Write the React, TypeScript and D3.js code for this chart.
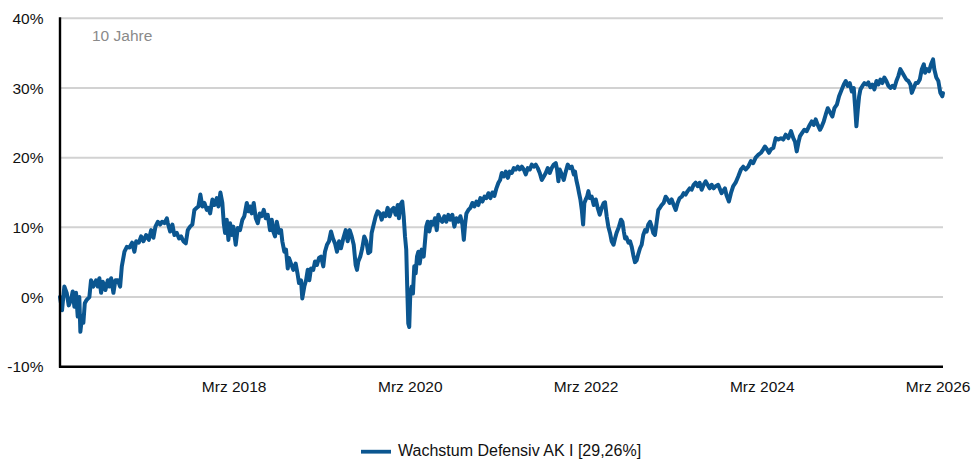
import React, { useEffect } from "react";
import * as d3 from "d3";

// decimal years of each observation
const years: number[] = [
  2016.183, 2016.206, 2016.232, 2016.259, 2016.282, 2016.308, 2016.327, 2016.346, 2016.365, 2016.384,
  2016.402, 2016.414, 2016.433, 2016.448, 2016.464, 2016.486, 2016.516, 2016.535, 2016.561, 2016.592,
  2016.611, 2016.63, 2016.649, 2016.668, 2016.698, 2016.725, 2016.743, 2016.763, 2016.789, 2016.811,
  2016.839, 2016.865, 2016.884, 2016.914, 2016.941, 2016.971, 2017.001, 2017.027, 2017.047, 2017.077,
  2017.103, 2017.13, 2017.16, 2017.191, 2017.217, 2017.243, 2017.266, 2017.293, 2017.319, 2017.342,
  2017.368, 2017.396, 2017.407, 2017.433, 2017.459, 2017.482, 2017.509, 2017.535, 2017.558, 2017.584,
  2017.611, 2017.634, 2017.66, 2017.686, 2017.709, 2017.736, 2017.755, 2017.777, 2017.8, 2017.823,
  2017.85, 2017.868, 2017.888, 2017.914, 2017.936, 2017.964, 2017.982, 2018.005, 2018.027, 2018.043,
  2018.058, 2018.077, 2018.096, 2018.115, 2018.134, 2018.152, 2018.179, 2018.202, 2018.228, 2018.255,
  2018.277, 2018.305, 2018.323, 2018.342, 2018.361, 2018.384, 2018.407, 2018.43, 2018.452, 2018.475,
  2018.498, 2018.521, 2018.543, 2018.569, 2018.589, 2018.607, 2018.626, 2018.646, 2018.672, 2018.695,
  2018.709, 2018.732, 2018.751, 2018.771, 2018.785, 2018.808, 2018.834, 2018.861, 2018.884, 2018.899,
  2018.922, 2018.936, 2018.959, 2018.979, 2018.998, 2019.016, 2019.035, 2019.061, 2019.081, 2019.103,
  2019.126, 2019.149, 2019.175, 2019.194, 2019.217, 2019.24, 2019.263, 2019.285, 2019.308, 2019.331,
  2019.354, 2019.376, 2019.402, 2019.43, 2019.452, 2019.475, 2019.498, 2019.521, 2019.543, 2019.558,
  2019.573, 2019.596, 2019.618, 2019.641, 2019.664, 2019.687, 2019.709, 2019.725, 2019.748, 2019.771,
  2019.793, 2019.819, 2019.839, 2019.861, 2019.884, 2019.907, 2019.93, 2019.952, 2019.975, 2019.998,
  2020.021, 2020.035, 2020.05, 2020.073, 2020.089, 2020.104, 2020.118, 2020.13, 2020.141, 2020.152,
  2020.164, 2020.18, 2020.194, 2020.209, 2020.225, 2020.24, 2020.255, 2020.271, 2020.293, 2020.316,
  2020.331, 2020.345, 2020.361, 2020.38, 2020.399, 2020.422, 2020.444, 2020.464, 2020.482, 2020.505,
  2020.527, 2020.55, 2020.573, 2020.596, 2020.618, 2020.641, 2020.664, 2020.686, 2020.709, 2020.732,
  2020.755, 2020.771, 2020.785, 2020.8, 2020.823, 2020.846, 2020.868, 2020.891, 2020.914, 2020.936,
  2020.959, 2020.982, 2021.005, 2021.027, 2021.05, 2021.073, 2021.096, 2021.118, 2021.141, 2021.164,
  2021.183, 2021.202, 2021.225, 2021.248, 2021.271, 2021.293, 2021.316, 2021.339, 2021.361, 2021.384,
  2021.407, 2021.43, 2021.452, 2021.475, 2021.498, 2021.521, 2021.543, 2021.566, 2021.589, 2021.611,
  2021.634, 2021.657, 2021.68, 2021.702, 2021.725, 2021.748, 2021.77, 2021.793, 2021.816, 2021.831,
  2021.846, 2021.861, 2021.884, 2021.907, 2021.93, 2021.952, 2021.975, 2021.998, 2022.021, 2022.035,
  2022.05, 2022.066, 2022.081, 2022.096, 2022.112, 2022.127, 2022.141, 2022.157, 2022.172, 2022.187,
  2022.202, 2022.225, 2022.248, 2022.271, 2022.293, 2022.316, 2022.339, 2022.361, 2022.376, 2022.395,
  2022.414, 2022.433, 2022.452, 2022.473, 2022.49, 2022.507, 2022.535, 2022.558, 2022.574, 2022.59,
  2022.604, 2022.619, 2022.642, 2022.661, 2022.68, 2022.698, 2022.717, 2022.737, 2022.755, 2022.774,
  2022.793, 2022.811, 2022.831, 2022.85, 2022.868, 2022.888, 2022.907, 2022.925, 2022.944, 2022.964,
  2022.982, 2023.001, 2023.02, 2023.043, 2023.066, 2023.089, 2023.111, 2023.134, 2023.157, 2023.18,
  2023.202, 2023.225, 2023.248, 2023.27, 2023.293, 2023.316, 2023.339, 2023.361, 2023.384, 2023.407,
  2023.43, 2023.452, 2023.475, 2023.498, 2023.521, 2023.543, 2023.566, 2023.589, 2023.611, 2023.634,
  2023.663, 2023.702, 2023.74, 2023.758, 2023.785, 2023.808, 2023.834, 2023.861, 2023.891, 2023.922,
  2023.948, 2023.975, 2024.005, 2024.035, 2024.061, 2024.089, 2024.118, 2024.149, 2024.175, 2024.194,
  2024.217, 2024.24, 2024.263, 2024.289, 2024.316, 2024.346, 2024.376, 2024.402, 2024.43, 2024.459,
  2024.49, 2024.516, 2024.535, 2024.555, 2024.573, 2024.592, 2024.618, 2024.641, 2024.668, 2024.694,
  2024.725, 2024.748, 2024.77, 2024.793, 2024.819, 2024.839, 2024.861, 2024.884, 2024.907, 2024.933,
  2024.959, 2024.982, 2025.01, 2025.035, 2025.066, 2025.089, 2025.111, 2025.134, 2025.157, 2025.18,
  2025.202, 2025.217, 2025.232, 2025.248, 2025.263, 2025.278, 2025.301, 2025.323, 2025.35, 2025.368,
  2025.391, 2025.414, 2025.437, 2025.46, 2025.482, 2025.505, 2025.527, 2025.55, 2025.573, 2025.596,
  2025.619, 2025.641, 2025.664, 2025.687, 2025.709, 2025.732, 2025.755, 2025.778, 2025.8, 2025.823,
  2025.846, 2025.862, 2025.884, 2025.907, 2025.93, 2025.953, 2025.976, 2025.999, 2026.013, 2026.036,
  2026.058, 2026.081, 2026.104, 2026.118, 2026.141, 2026.164, 2026.187, 2026.209, 2026.217,
];

// cumulative performance in %
const values: number[] = [
  0.0, -1.9, 1.5, 0.6, -1.2, -0.4, 0.8, -1.4, 0.6, -2.8,
  0.0, -5.0, -2.8, -3.7, -0.9, -0.4, 0.0, 2.4, 1.5, 2.4,
  1.5, 2.7, 0.6, 2.2, 1.0, 2.4, 1.5, 2.7, 0.6, 2.4,
  2.4, 1.5, 4.4, 6.5, 7.2, 7.1, 7.8, 6.5, 8.0, 7.8,
  8.7, 8.0, 8.9, 8.2, 9.6, 8.5, 10.1, 10.8, 10.4, 10.8,
  10.6, 11.3, 10.6, 9.4, 10.4, 8.9, 9.2, 8.4, 8.7, 8.0,
  7.7, 9.6, 10.1, 10.4, 12.5, 12.8, 13.0, 14.7, 13.0, 13.5,
  12.5, 12.8, 12.0, 14.0, 13.2, 14.2, 13.0, 15.0, 13.5, 10.6,
  9.2, 11.1, 8.2, 10.6, 8.9, 10.1, 7.5, 9.9, 9.6, 11.1,
  11.6, 13.5, 12.3, 13.0, 12.0, 13.5, 11.3, 10.6, 12.0, 11.6,
  12.5, 11.3, 11.8, 9.6, 11.1, 9.4, 8.7, 10.8, 9.2, 9.6,
  8.0, 6.5, 6.8, 4.1, 5.6, 4.8, 3.9, 4.8, 3.2, 2.0,
  2.4, -0.2, 1.5, 2.4, 3.9, 2.4, 4.1, 3.9, 5.1, 4.6,
  5.6, 5.8, 4.4, 6.5, 7.5, 8.0, 9.4, 8.4, 7.7, 6.5,
  8.0, 7.0, 8.4, 9.6, 8.0, 9.6, 8.7, 7.5, 4.6, 3.9,
  5.1, 5.8, 7.0, 8.7, 8.0, 6.3, 6.5, 9.2, 10.4, 11.6,
  12.3, 12.0, 11.1, 12.0, 11.6, 12.8, 11.6, 12.5, 12.8, 11.8,
  13.2, 11.3, 13.2, 13.7, 11.6, 8.7, 6.8, 1.0, -3.8, -4.3,
  0.5, 1.5, 0.5, 4.4, 3.4, 5.8, 6.5, 4.8, 6.8, 5.8,
  8.0, 10.1, 10.8, 9.4, 10.8, 10.4, 11.3, 9.6, 11.8, 11.1,
  10.8, 11.6, 10.8, 11.8, 11.1, 11.8, 10.1, 11.3, 10.8, 11.6,
  10.4, 8.2, 10.4, 12.0, 12.5, 12.8, 13.5, 13.0, 13.7, 13.2,
  14.2, 13.7, 14.4, 14.2, 14.9, 14.2, 15.0, 14.5, 15.6, 16.4,
  16.8, 17.8, 17.3, 18.0, 17.1, 18.0, 17.8, 18.5, 18.3, 18.7,
  18.3, 18.7, 18.3, 17.6, 18.5, 18.3, 19.0, 18.7, 19.0, 18.5,
  17.8, 16.8, 17.3, 17.8, 18.5, 17.8, 18.5, 19.0, 19.2, 18.3,
  16.6, 18.3, 17.6, 16.8, 18.0, 19.0, 18.5, 18.7, 17.6, 18.0,
  16.8, 15.9, 14.9, 14.0, 12.5, 10.4, 13.5, 14.0, 14.4, 15.2,
  14.2, 14.4, 13.2, 14.0, 12.8, 11.8, 12.8, 13.5, 13.6, 11.6,
  10.1, 9.2, 8.0, 7.5, 8.4, 9.2, 10.1, 11.1, 10.8, 9.4,
  8.4, 8.6, 7.8, 8.0, 7.2, 6.0, 5.0, 5.3, 6.2, 7.0,
  7.5, 8.9, 9.6, 9.4, 10.4, 10.8, 10.1, 9.2, 8.9, 10.8,
  12.5, 12.8, 13.2, 13.5, 14.4, 14.0, 13.5, 14.0, 13.2, 12.5,
  13.5, 14.2, 14.4, 14.9, 14.7, 15.2, 15.6, 15.4, 16.1, 16.4,
  15.9, 16.4, 15.4, 16.1, 16.6, 16.1, 15.6, 16.1, 15.6, 15.9,
  16.1, 14.9, 15.6, 14.6, 13.7, 14.9, 15.9, 16.4, 17.3, 18.3,
  18.7, 18.3, 18.7, 19.5, 19.2, 20.0, 20.4, 20.7, 21.2, 21.6,
  21.2, 20.7, 21.2, 21.4, 22.8, 22.6, 22.8, 22.6, 23.3, 22.8,
  23.8, 22.8, 22.3, 20.9, 22.1, 23.1, 23.6, 24.0, 23.8, 24.5,
  25.2, 24.7, 25.5, 24.7, 24.0, 24.5, 25.2, 26.2, 27.1, 26.5,
  25.9, 27.1, 27.6, 28.8, 29.8, 30.5, 31.0, 30.3, 30.7, 29.5,
  30.0, 27.4, 24.5, 26.9, 28.8, 29.8, 30.3, 30.7, 30.5, 30.8,
  30.1, 30.5, 29.8, 31.0, 30.5, 31.2, 30.7, 31.5, 31.0, 30.3,
  30.0, 30.3, 30.0, 31.0, 31.7, 32.7, 32.2, 31.7, 31.2, 31.0,
  30.5, 29.3, 30.0, 30.7, 30.7, 31.2, 32.7, 33.4, 32.2, 32.7,
  32.4, 33.4, 34.1, 32.7, 31.5, 31.0, 29.3, 28.8, 29.26,
];

const yTicks: number[] = [-10, 0, 10, 20, 30, 40];
const xTickYears: number[] = [2018, 2020, 2022, 2024, 2026];
const xTickMonthLabel = "Mrz";
const periodLabel = "10 Jahre";
const seriesName = "Wachstum Defensiv AK I [29,26%]";
const domainStartYear = 2016.183;
const domainEndYear = 2026.217;

function yearToDate(y: number): Date {
  const yr = Math.floor(y);
  const s = Date.UTC(yr, 0, 1);
  const e = Date.UTC(yr + 1, 0, 1);
  return new Date(s + (y - yr) * (e - s));
}

const W = 971;
const H = 459;
const M = { left: 60, right: 943, top: 18.3, bottom: 366.7 };
const FONT = "'Liberation Sans', Arial, sans-serif";
const LINE_COLOR = "#0b5690";

export default function App() {
  useEffect(() => {
    document.body.style.margin = "0";
  }, []);

  const data = years.map((y, i) => ({ date: yearToDate(y), value: values[i] }));

  const x = d3
    .scaleUtc()
    .domain([yearToDate(domainStartYear), yearToDate(domainEndYear)])
    .range([M.left, M.right]);
  const y = d3.scaleLinear().domain([-10, 40]).range([M.bottom, M.top]);

  const line = d3
    .line<{ date: Date; value: number }>()
    .x((d) => x(d.date))
    .y((d) => y(d.value));

  const path = line(data) || "";

  return (
    <svg width={W} height={H} style={{ display: "block" }} fontFamily={FONT}>
      <rect x={0} y={0} width={W} height={H} fill="#ffffff" />
      {yTicks
        .filter((t) => t !== -10)
        .map((t) => (
          <line
            key={"g" + t}
            x1={M.left}
            x2={M.right}
            y1={y(t)}
            y2={y(t)}
            stroke="#d2d2d2"
            strokeWidth={2}
          />
        ))}
      {yTicks.map((t) => (
        <text
          key={"yl" + t}
          x={43.5}
          y={y(t)}
          dy="0.36em"
          textAnchor="end"
          fontSize={15.5}
          fill="#111"
        >
          {t + "%"}
        </text>
      ))}
      {xTickYears.map((yr) => (
        <text
          key={"xl" + yr}
          x={x(new Date(Date.UTC(yr, 2, 1)))}
          y={391.5}
          textAnchor="middle"
          fontSize={15.5}
          fill="#111"
        >
          {xTickMonthLabel + " " + yr}
        </text>
      ))}
      <text x={92} y={41} fontSize={15.5} fill="#8a8a8a">
        {periodLabel}
      </text>
      <path
        d={path}
        fill="none"
        stroke={LINE_COLOR}
        strokeWidth={4}
        strokeLinejoin="round"
        strokeLinecap="round"
      />
      <line x1={M.left} x2={M.left} y1={M.top - 1} y2={M.bottom + 1} stroke="#000" strokeWidth={2.4} />
      <line x1={M.left - 1} x2={M.right} y1={M.bottom} y2={M.bottom} stroke="#000" strokeWidth={2.4} />
      <line x1={361} x2={391} y1={451.7} y2={451.7} stroke={LINE_COLOR} strokeWidth={3.8} />
      <text x={398} y={456} fontSize={16} fill="#111">
        {seriesName}
      </text>
    </svg>
  );
}
